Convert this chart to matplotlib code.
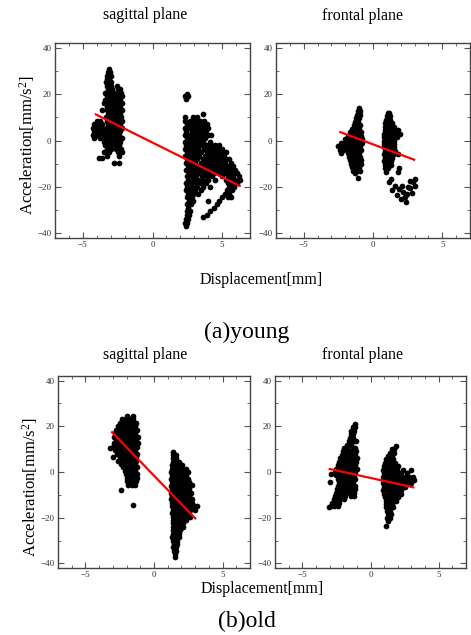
import matplotlib
matplotlib.use("Agg")
import matplotlib.pyplot as plt
import numpy as np

plt.rcParams['font.family'] = ['Liberation Serif', 'DejaVu Serif']
plt.rcParams['mathtext.fontset'] = 'custom'
plt.rcParams['mathtext.rm'] = 'Liberation Serif'
plt.rcParams['mathtext.it'] = 'Liberation Serif'

# each cluster: rows of (acceleration, [displacements])
young_sag_left = [
    (31, [-3.1]), (29.5, [-3.2, -3.05]), (28, [-3.25, -3.0]), (26.5, [-3.3, -3.1]),
    (25, [-3.35, -3.15, -2.95]), (23.5, [-3.3, -3.0, -2.55]),
    (22, [-3.2, -2.9, -2.5, -2.3]), (20.5, [-3.4, -3.1, -2.8, -2.5, -2.25]),
    (19, [-3.3, -3.0, -2.7, -2.4, -2.2]), (17.5, [-3.4, -3.15, -2.85, -2.6, -2.3]),
    (16, [-3.5, -3.2, -2.95, -2.7, -2.45, -2.2]), (14.5, [-3.3, -3.05, -2.8, -2.55, -2.3]),
    (13, [-3.6, -3.25, -2.95, -2.7, -2.45, -2.2]), (11.5, [-3.2, -2.9, -2.65, -2.35]),
    (10, [-3.35, -3.05, -2.8, -2.55, -2.25]),
    (8.5, [-4.0, -3.75, -3.3, -3.0, -2.7, -2.45, -2.2]),
    (7, [-4.2, -3.9, -3.6, -3.2, -2.9, -2.6, -2.35]),
    (5.5, [-4.3, -4.0, -3.7, -3.35, -3.05, -2.75, -2.45, -2.2]),
    (4, [-4.2, -3.9, -3.55, -3.2, -2.9, -2.6, -2.3]),
    (2.5, [-4.3, -4.05, -3.7, -3.35, -3.0, -2.7, -2.4]),
    (1, [-4.2, -3.8, -3.45, -3.1, -2.8, -2.5, -2.2]),
    (-0.5, [-3.5, -3.2, -2.9, -2.55, -2.3]), (-2, [-3.4, -3.05, -2.7, -2.4]),
    (-3.5, [-3.3, -2.95, -2.6, -2.25]), (-5, [-3.45, -3.1, -2.5, -2.2]),
    (-6.5, [-3.3, -2.4]), (-7.5, [-3.85, -3.6]), (-9.5, [-2.75, -2.4]),
]
young_sag_right = [
    (20, [2.45]), (19, [2.35, 2.55]), (18, [2.4]), (11.5, [3.6]),
    (10, [2.3, 2.9, 3.2]), (8.5, [2.35, 2.7, 3.05, 3.4, 3.7]),
    (7, [2.5, 2.85, 3.2, 3.55, 3.9]), (5.5, [2.3, 2.65, 3.0, 3.35, 3.7, 4.0]),
    (4, [2.4, 2.8, 3.1, 3.5, 3.85]), (2.5, [2.3, 2.6, 2.95, 3.3, 3.65, 4.0, 4.2]),
    (1, [2.45, 2.75, 3.1, 3.45, 3.8]), (-0.5, [2.3, 2.6, 2.95, 3.3, 3.65, 4.1]),
    (-2, [2.4, 2.75, 3.1, 3.5, 3.85, 4.2, 4.5, 4.8]),
    (-3.5, [2.3, 2.6, 2.95, 3.3, 3.7, 4.05, 4.4, 4.7, 5.0]),
    (-5, [2.45, 2.8, 3.15, 3.5, 3.9, 4.25, 4.6, 4.95, 5.25]),
    (-6.5, [2.35, 2.65, 3.0, 3.35, 3.75, 4.1, 4.45, 4.8, 5.1]),
    (-8, [2.5, 2.85, 3.2, 3.6, 3.95, 4.3, 4.65, 5.0, 5.3, 5.5]),
    (-9.5, [2.4, 2.7, 3.05, 3.45, 3.8, 4.15, 4.5, 4.85, 5.2, 5.6]),
    (-11, [2.55, 2.9, 3.25, 3.65, 4.0, 4.35, 4.7, 5.05, 5.4, 5.8]),
    (-12.5, [2.4, 2.75, 3.1, 3.5, 3.85, 4.2, 4.55, 4.9, 5.25, 5.6, 5.95]),
    (-14, [2.6, 2.95, 3.3, 3.7, 4.05, 4.4, 4.8, 5.15, 5.5, 5.85, 6.1]),
    (-15.5, [2.45, 2.8, 3.15, 3.55, 3.9, 4.3, 5.0, 5.4, 5.75, 6.2]),
    (-17, [2.55, 2.9, 3.25, 3.6, 4.0, 4.5, 5.3, 5.6, 5.95, 6.3]),
    (-18.5, [2.4, 2.75, 3.1, 3.45, 3.85, 5.4, 5.7, 6.05]),
    (-20, [2.5, 2.85, 3.2, 3.6, 4.1, 5.5, 5.85]),
    (-21.5, [2.4, 2.7, 3.05, 3.5, 5.35, 5.7]),
    (-23, [2.55, 2.9, 3.3, 5.2, 5.5]), (-24.5, [2.45, 2.8, 5.0, 5.4, 5.6]),
    (-26, [2.6, 2.9, 3.95, 4.8]), (-27.5, [2.5, 2.75, 4.6]), (-29, [2.55, 4.4]),
    (-30.5, [2.5, 2.7, 4.15]), (-32, [2.45, 2.6, 3.9]), (-33, [3.6]),
    (-34, [2.4, 2.55]), (-35.5, [2.35, 2.5]), (-37, [2.4]),
]
young_front_left = [
    (14, [-1.0]), (12.5, [-1.05, -0.95]), (11, [-1.15, -0.95]), (9.5, [-1.2, -1.0]),
    (8, [-1.3, -1.05]), (6.5, [-1.4, -1.2, -0.95]), (5, [-1.5, -1.25, -1.0]),
    (3.5, [-1.65, -1.4, -1.15, -0.9]), (2, [-1.8, -1.55, -1.3, -1.05, -0.85]),
    (0.5, [-2.0, -1.75, -1.5, -1.25, -1.0, -0.8]),
    (-1, [-2.3, -2.05, -1.8, -1.55, -1.3, -1.05, -0.8]),
    (-2.5, [-2.5, -2.25, -1.95, -1.7, -1.45, -1.2, -0.95]),
    (-4, [-2.4, -2.15, -1.9, -1.6, -1.35, -1.1, -0.85]),
    (-5.5, [-2.3, -1.8, -1.55, -1.3, -1.0]), (-7, [-1.75, -1.5, -1.25, -0.95]),
    (-8.5, [-1.65, -1.4, -1.15, -0.9]), (-10, [-1.6, -1.35, -1.1, -0.9]),
    (-11.5, [-1.5, -1.25, -1.0]), (-13, [-1.45, -1.15, -0.95]), (-14, [-1.3]),
    (-16, [-1.05]),
]
young_front_right = [
    (12, [1.05, 1.15]), (10.5, [1.0, 1.2]), (9, [0.95, 1.2]), (7.5, [0.9, 1.15, 1.4]),
    (6, [0.85, 1.1, 1.35, 1.55]), (4.5, [0.85, 1.1, 1.35, 1.6, 1.8]),
    (3, [0.8, 1.05, 1.3, 1.55, 1.8, 1.95]), (1.5, [0.8, 1.05, 1.3, 1.55, 1.75]),
    (0, [0.8, 1.05, 1.3, 1.55]), (-1.5, [0.8, 1.05, 1.3, 1.55]),
    (-3, [0.8, 1.05, 1.3, 1.55]), (-4.5, [0.85, 1.1, 1.35, 1.6]),
    (-6, [0.8, 1.05, 1.3, 1.55, 1.8]), (-7.5, [0.85, 1.1, 1.35]),
    (-9, [0.8, 1.05, 1.3]), (-10.5, [0.85, 1.1, 1.3]), (-12, [0.85, 1.05, 1.9]),
    (-13.5, [0.95, 1.8]), (-16.5, [1.3, 3.0]), (-17.5, [2.7]), (-18, [1.14, 2.9]),
    (-19.5, [1.6, 2.06, 3.0]), (-20, [2.5]), (-20.6, [2.66]), (-21, [1.9]),
    (-21.5, [1.4]), (-22, [2.2]), (-22.5, [2.8]), (-23, [2.45]), (-23.6, [1.7]),
    (-24.3, [2.3]), (-25, [2.0]), (-26.5, [2.4]),
]
old_sag_left = [
    (24.5, [-2.0, -1.5]), (23, [-2.3, -2.05, -1.8, -1.55]),
    (21.5, [-2.5, -2.25, -2.0, -1.75, -1.5, -1.3]),
    (20, [-2.6, -2.35, -2.1, -1.85, -1.6, -1.35]),
    (18.5, [-2.75, -2.5, -2.25, -2.0, -1.75, -1.5, -1.25]),
    (17, [-2.85, -2.6, -2.35, -2.1, -1.85, -1.6, -1.35]),
    (15.5, [-2.9, -2.65, -2.4, -2.15, -1.9, -1.65, -1.4, -1.2]),
    (14, [-2.8, -2.55, -2.3, -2.05, -1.8, -1.55, -1.3]),
    (12.5, [-2.9, -2.65, -2.4, -2.15, -1.9, -1.65, -1.4, -1.2]),
    (11, [-3.0, -2.75, -2.5, -2.25, -2.0, -1.75, -1.5, -1.25]), (10.4, [-3.18]),
    (9.5, [-2.85, -2.6, -2.35, -2.1, -1.85, -1.6, -1.35]),
    (8, [-2.7, -2.45, -2.2, -1.95, -1.7, -1.45, -1.25]),
    (6.5, [-3.0, -2.5, -2.25, -2.0, -1.75, -1.5, -1.3]),
    (5, [-2.6, -2.3, -2.05, -1.8, -1.55, -1.3]),
    (3.5, [-2.4, -2.15, -1.9, -1.65, -1.4]), (2, [-2.25, -2.0, -1.75, -1.5, -1.25]),
    (0.5, [-2.1, -1.85, -1.6, -1.35]), (-1, [-2.05, -1.8, -1.5, -1.25]),
    (-2.5, [-2.0, -1.7, -1.45, -1.25]), (-4, [-2.0, -1.75, -1.5, -1.3]),
    (-5.5, [-1.9, -1.6, -1.35]), (-7.9, [-2.4]), (-14.6, [-1.5]),
]
old_sag_right = [
    (8.9, [1.42]), (7.5, [1.4, 1.6]), (6, [1.35, 1.6]), (4.5, [1.35, 1.6, 1.85]),
    (3, [1.3, 1.55, 1.8, 2.05]), (1.5, [1.3, 1.55, 1.8, 2.05, 2.3]),
    (0, [1.25, 1.5, 1.75, 2.0, 2.25, 2.45]), (-1.5, [1.3, 1.55, 1.8, 2.05, 2.3]),
    (-3, [1.25, 1.5, 1.75, 2.0, 2.25, 2.5]), (-4.5, [1.3, 1.55, 1.8, 2.05, 2.3, 2.55]),
    (-5.7, [2.75]), (-6, [1.25, 1.5, 1.75, 2.0, 2.25, 2.5]),
    (-7.5, [1.3, 1.55, 1.8, 2.05, 2.3, 2.55]),
    (-9, [1.25, 1.5, 1.75, 2.0, 2.25, 2.5, 2.7]),
    (-10.5, [1.3, 1.55, 1.8, 2.05, 2.3, 2.55]),
    (-12, [1.25, 1.5, 1.75, 2.0, 2.25, 2.5, 2.75]),
    (-13.5, [1.3, 1.55, 1.8, 2.05, 2.3, 2.55, 2.8]),
    (-15, [1.3, 1.55, 1.8, 2.05, 2.3, 2.6, 2.9, 3.1]),
    (-16.5, [1.35, 1.6, 1.85, 2.1, 2.35, 2.6, 3.0]),
    (-18, [1.3, 1.55, 1.8, 2.05, 2.3, 2.55]), (-19.5, [1.4, 1.65, 1.9, 2.15, 2.4, 2.6]),
    (-21, [1.35, 1.6, 1.85, 2.1, 2.35]), (-22.5, [1.4, 1.65, 1.9, 2.15]),
    (-24, [1.35, 1.6, 1.85, 2.1]), (-25.5, [1.4, 1.65, 1.9]), (-27, [1.35, 1.6, 1.85]),
    (-28.5, [1.3, 1.55, 1.8]), (-30, [1.4, 1.65]), (-31.5, [1.45, 1.7]),
    (-33, [1.4, 1.6]), (-34.5, [1.45, 1.6]), (-36, [1.5]), (-37, [1.52]),
]
old_front_left = [
    (21, [-1.15]), (19.5, [-1.3, -1.1]), (18, [-1.4, -1.2]), (16.5, [-1.45, -1.25]),
    (15, [-1.5, -1.3]), (13.5, [-1.6, -1.2, -1.05]), (12, [-1.7, -1.45]),
    (10.5, [-1.95, -1.7, -1.3, -1.1]), (9, [-2.0, -1.75, -1.5, -1.25, -1.05]),
    (7.5, [-2.1, -1.85, -1.6, -1.35, -1.1]), (6, [-2.2, -1.95, -1.7, -1.45, -1.2, -1.0]),
    (4.5, [-2.3, -2.05, -1.8, -1.55, -1.3, -1.05]),
    (3, [-2.4, -2.15, -1.9, -1.65, -1.4, -1.15]),
    (1.5, [-2.5, -2.25, -2.0, -1.75, -1.5, -1.25, -1.0]),
    (0, [-2.6, -2.35, -2.1, -1.85, -1.6, -1.35, -1.1]), (-1, [-2.9]),
    (-1.5, [-2.5, -2.25, -2.0, -1.75, -1.5, -1.2]),
    (-3, [-2.4, -2.15, -1.9, -1.65, -1.4, -1.15]),
    (-4.5, [-2.95, -2.3, -2.05, -1.8, -1.55, -1.3]),
    (-6, [-2.4, -2.15, -1.9, -1.65, -1.4, -1.15]),
    (-7.5, [-2.45, -2.2, -1.95, -1.7, -1.4, -1.15]),
    (-9, [-2.55, -2.3, -2.05, -1.8, -1.5, -1.2]),
    (-10.5, [-2.6, -2.35, -2.1, -1.85, -1.4, -1.2]),
    (-12, [-2.7, -2.45, -2.2, -1.95]), (-13.5, [-2.8, -2.55, -2.3]),
    (-15, [-2.9, -2.65, -2.4]), (-15.5, [-3.05]),
]
old_front_right = [
    (11.5, [1.9]), (10, [1.6, 1.75]), (8.5, [1.45, 1.7]), (7, [1.3, 1.55]),
    (5.5, [1.15, 1.4, 1.65]), (4, [1.05, 1.3, 1.55, 1.8]),
    (2.5, [1.0, 1.25, 1.5, 1.75, 2.0]), (1, [0.95, 1.2, 1.45, 1.7, 1.95, 2.4, 3.0]),
    (-0.5, [1.0, 1.25, 1.5, 1.75, 2.0, 2.25, 2.7]),
    (-2, [0.95, 1.2, 1.45, 1.7, 1.95, 2.2, 2.5, 2.8, 3.1]),
    (-3.5, [1.0, 1.25, 1.5, 1.75, 2.0, 2.3, 2.6, 2.9, 3.2]),
    (-5, [0.95, 1.2, 1.45, 1.7, 1.95, 2.2, 2.5, 2.75, 3.0]),
    (-6.5, [1.0, 1.25, 1.5, 1.75, 2.0, 2.3, 2.55]),
    (-8, [0.95, 1.2, 1.45, 1.7, 1.95, 2.2]), (-9.5, [1.0, 1.25, 1.5, 1.75, 2.0, 2.25]),
    (-11, [1.05, 1.3, 1.55, 1.8, 2.05]), (-12.5, [1.1, 1.35, 1.6, 1.85]),
    (-14, [1.1, 1.35, 1.6]), (-15.5, [1.15, 1.4, 1.65]), (-17, [1.2, 1.45]),
    (-18.5, [1.25, 1.5]), (-20, [1.2, 1.4]), (-21.5, [1.25]), (-23.5, [1.15]),
]

# regression lines: (intercept, slope, x_start, x_end)
fit_young_sag = (-0.9, -2.98, -4.07, 6.26)
fit_young_front = (-1.66, -2.23, -2.36, 2.97)
fit_old_sag = (-1.6, -6.21, -3.06, 3.01)
fit_old_front = (-2.6, -1.31, -2.99, 3.13)


def expand(rows):
    xs, ys = [], []
    for y, row in rows:
        for x in row:
            xs.append(x)
            ys.append(y)
    return np.array(xs), np.array(ys)


def panel(ax, clusters, fit):
    for rows in clusters:
        x, y = expand(rows)
        ax.scatter(x, y, s=17, color='black', linewidths=0, zorder=2)
    b, m, x0, x1 = fit
    xl = np.array([x0, x1])
    ax.plot(xl, b + m * xl, color='red', lw=1.6, zorder=3)
    ax.set_xlim(-7, 7)
    ax.set_ylim(-42, 42)
    ax.set_xticks([-5, 0, 5])
    ax.set_xticks(np.arange(-6, 7, 1), minor=True)
    ax.set_yticks([-40, -20, 0, 20, 40])
    ax.set_yticks(np.arange(-40, 41, 10), minor=True)
    ax.tick_params(which='both', direction='in', top=True, right=True,
                   color='#555555', labelsize=6.5, labelcolor='#333333', pad=2.5)
    ax.tick_params(which='major', length=4, width=0.8)
    ax.tick_params(which='minor', length=2.2, width=0.6)
    for s in ax.spines.values():
        s.set_color('#444444')
        s.set_linewidth(1.0)


fig = plt.figure(figsize=(4.71, 6.35), dpi=100)
W, H = 471, 635


def add_ax(l, t, r, b):
    return fig.add_axes([l / W, (H - b) / H, (r - l) / W, (b - t) / H])


ax1 = add_ax(55, 43, 250, 238)
ax2 = add_ax(276, 43, 470, 238)
ax3 = add_ax(58, 376, 250, 568)
ax4 = add_ax(275, 376, 466, 568)

panel(ax1, [young_sag_left, young_sag_right], fit_young_sag)
panel(ax2, [young_front_left, young_front_right], fit_young_front)
panel(ax3, [old_sag_left, old_sag_right], fit_old_sag)
panel(ax4, [old_front_left, old_front_right], fit_old_front)


def ftext(x, y, s, **kw):
    fig.text(x / W, 1 - y / H, s, ha='center', va='center', **kw)


ftext(145, 15, 'sagittal plane', fontsize=11.5)
ftext(363, 16, 'frontal plane', fontsize=11.5)
ftext(145, 355, 'sagittal plane', fontsize=11.5)
ftext(362, 355, 'frontal plane', fontsize=11.5)
ftext(261, 280, 'Displacement[mm]', fontsize=11.5)
ftext(262, 589, 'Displacement[mm]', fontsize=11.5)
ftext(247, 332, '(a)young', fontsize=17)
ftext(247, 621, '(b)old', fontsize=17)
ftext(27, 145, 'Acceleration[mm/s$^2$]', fontsize=12, rotation=90)
ftext(30, 487, 'Acceleration[mm/s$^2$]', fontsize=12, rotation=90)

fig.savefig('out.png', dpi=100)
